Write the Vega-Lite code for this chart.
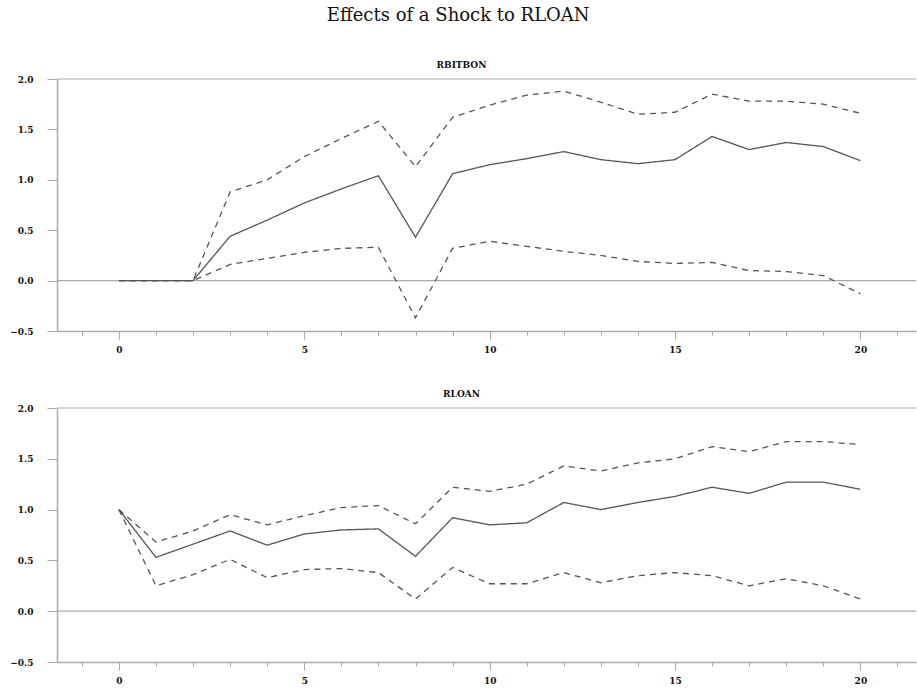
{
  "$schema": "https://vega.github.io/schema/vega-lite/v6.json",
  "background": "white",
  "padding": {"left": 9, "top": 7, "right": 0, "bottom": 0},
  "title": {"text": "Effects of a Shock to RLOAN", "font": "DejaVu Serif", "fontSize": 18, "fontWeight": "normal", "color": "#111", "anchor": "middle", "offset": 36, "dx": -5},
  "spacing": 36,
  "config": {
    "view": {"stroke": null},
    "axis": {"labelFont": "DejaVu Serif", "labelFontWeight": "bold", "labelFontSize": 9, "labelColor": "#111", "domainColor": "#aaa", "tickColor": "#aaa", "grid": false, "title": null},
    "title": {"font": "DejaVu Serif", "fontSize": 9, "fontWeight": "bold", "color": "#111"}
  },
  "datasets": {
    "p1": [
      {"step": 0, "series": "irf", "value": 0}, {"step": 1, "series": "irf", "value": 0}, {"step": 2, "series": "irf", "value": 0},
      {"step": 3, "series": "irf", "value": 0.44}, {"step": 4, "series": "irf", "value": 0.6}, {"step": 5, "series": "irf", "value": 0.77},
      {"step": 6, "series": "irf", "value": 0.91}, {"step": 7, "series": "irf", "value": 1.04}, {"step": 8, "series": "irf", "value": 0.43},
      {"step": 9, "series": "irf", "value": 1.06}, {"step": 10, "series": "irf", "value": 1.15}, {"step": 11, "series": "irf", "value": 1.21},
      {"step": 12, "series": "irf", "value": 1.28}, {"step": 13, "series": "irf", "value": 1.2}, {"step": 14, "series": "irf", "value": 1.16},
      {"step": 15, "series": "irf", "value": 1.2}, {"step": 16, "series": "irf", "value": 1.43}, {"step": 17, "series": "irf", "value": 1.3},
      {"step": 18, "series": "irf", "value": 1.37}, {"step": 19, "series": "irf", "value": 1.33}, {"step": 20, "series": "irf", "value": 1.19},
      {"step": 0, "series": "upper", "value": 0}, {"step": 1, "series": "upper", "value": 0}, {"step": 2, "series": "upper", "value": 0},
      {"step": 3, "series": "upper", "value": 0.88}, {"step": 4, "series": "upper", "value": 1.0}, {"step": 5, "series": "upper", "value": 1.23},
      {"step": 6, "series": "upper", "value": 1.41}, {"step": 7, "series": "upper", "value": 1.58}, {"step": 8, "series": "upper", "value": 1.13},
      {"step": 9, "series": "upper", "value": 1.62}, {"step": 10, "series": "upper", "value": 1.74}, {"step": 11, "series": "upper", "value": 1.84},
      {"step": 12, "series": "upper", "value": 1.88}, {"step": 13, "series": "upper", "value": 1.77}, {"step": 14, "series": "upper", "value": 1.65},
      {"step": 15, "series": "upper", "value": 1.67}, {"step": 16, "series": "upper", "value": 1.85}, {"step": 17, "series": "upper", "value": 1.78},
      {"step": 18, "series": "upper", "value": 1.78}, {"step": 19, "series": "upper", "value": 1.75}, {"step": 20, "series": "upper", "value": 1.66},
      {"step": 0, "series": "lower", "value": 0}, {"step": 1, "series": "lower", "value": 0}, {"step": 2, "series": "lower", "value": 0},
      {"step": 3, "series": "lower", "value": 0.16}, {"step": 4, "series": "lower", "value": 0.22}, {"step": 5, "series": "lower", "value": 0.28},
      {"step": 6, "series": "lower", "value": 0.32}, {"step": 7, "series": "lower", "value": 0.33}, {"step": 8, "series": "lower", "value": -0.37},
      {"step": 9, "series": "lower", "value": 0.32}, {"step": 10, "series": "lower", "value": 0.39}, {"step": 11, "series": "lower", "value": 0.34},
      {"step": 12, "series": "lower", "value": 0.29}, {"step": 13, "series": "lower", "value": 0.25}, {"step": 14, "series": "lower", "value": 0.19},
      {"step": 15, "series": "lower", "value": 0.17}, {"step": 16, "series": "lower", "value": 0.18}, {"step": 17, "series": "lower", "value": 0.1},
      {"step": 18, "series": "lower", "value": 0.09}, {"step": 19, "series": "lower", "value": 0.05}, {"step": 20, "series": "lower", "value": -0.13}
    ],
    "p2": [
      {"step": 0, "series": "irf", "value": 1.0}, {"step": 1, "series": "irf", "value": 0.53}, {"step": 2, "series": "irf", "value": 0.66},
      {"step": 3, "series": "irf", "value": 0.79}, {"step": 4, "series": "irf", "value": 0.65}, {"step": 5, "series": "irf", "value": 0.76},
      {"step": 6, "series": "irf", "value": 0.8}, {"step": 7, "series": "irf", "value": 0.81}, {"step": 8, "series": "irf", "value": 0.54},
      {"step": 9, "series": "irf", "value": 0.92}, {"step": 10, "series": "irf", "value": 0.85}, {"step": 11, "series": "irf", "value": 0.87},
      {"step": 12, "series": "irf", "value": 1.07}, {"step": 13, "series": "irf", "value": 1.0}, {"step": 14, "series": "irf", "value": 1.07},
      {"step": 15, "series": "irf", "value": 1.13}, {"step": 16, "series": "irf", "value": 1.22}, {"step": 17, "series": "irf", "value": 1.16},
      {"step": 18, "series": "irf", "value": 1.27}, {"step": 19, "series": "irf", "value": 1.27}, {"step": 20, "series": "irf", "value": 1.2},
      {"step": 0, "series": "upper", "value": 1.0}, {"step": 1, "series": "upper", "value": 0.68}, {"step": 2, "series": "upper", "value": 0.79},
      {"step": 3, "series": "upper", "value": 0.95}, {"step": 4, "series": "upper", "value": 0.85}, {"step": 5, "series": "upper", "value": 0.94},
      {"step": 6, "series": "upper", "value": 1.02}, {"step": 7, "series": "upper", "value": 1.04}, {"step": 8, "series": "upper", "value": 0.86},
      {"step": 9, "series": "upper", "value": 1.22}, {"step": 10, "series": "upper", "value": 1.18}, {"step": 11, "series": "upper", "value": 1.25},
      {"step": 12, "series": "upper", "value": 1.43}, {"step": 13, "series": "upper", "value": 1.38}, {"step": 14, "series": "upper", "value": 1.46},
      {"step": 15, "series": "upper", "value": 1.5}, {"step": 16, "series": "upper", "value": 1.62}, {"step": 17, "series": "upper", "value": 1.57},
      {"step": 18, "series": "upper", "value": 1.67}, {"step": 19, "series": "upper", "value": 1.67}, {"step": 20, "series": "upper", "value": 1.64},
      {"step": 0, "series": "lower", "value": 1.0}, {"step": 1, "series": "lower", "value": 0.25}, {"step": 2, "series": "lower", "value": 0.36},
      {"step": 3, "series": "lower", "value": 0.51}, {"step": 4, "series": "lower", "value": 0.33}, {"step": 5, "series": "lower", "value": 0.41},
      {"step": 6, "series": "lower", "value": 0.42}, {"step": 7, "series": "lower", "value": 0.38}, {"step": 8, "series": "lower", "value": 0.12},
      {"step": 9, "series": "lower", "value": 0.43}, {"step": 10, "series": "lower", "value": 0.27}, {"step": 11, "series": "lower", "value": 0.27},
      {"step": 12, "series": "lower", "value": 0.38}, {"step": 13, "series": "lower", "value": 0.28}, {"step": 14, "series": "lower", "value": 0.35},
      {"step": 15, "series": "lower", "value": 0.38}, {"step": 16, "series": "lower", "value": 0.35}, {"step": 17, "series": "lower", "value": 0.25},
      {"step": 18, "series": "lower", "value": 0.32}, {"step": 19, "series": "lower", "value": 0.25}, {"step": 20, "series": "lower", "value": 0.12}
    ],
    "ref": [{"y": 0}, {"y": 2}]
  },
  "vconcat": [
    {
      "width": 859, "height": 252,
      "title": {"text": "RBITBON", "offset": 5, "dx": -25},
      "resolve": {"axis": {"x": "independent"}},
      "layer": [
        {
          "data": {"name": "ref"},
          "mark": {"type": "rule", "color": "#aaa", "strokeWidth": 1.2},
          "encoding": {
            "y": {"field": "y", "type": "quantitative", "scale": {"domain": [-0.5, 2.0], "nice": false},
                  "axis": {"values": [-0.5, 0, 0.5, 1, 1.5, 2], "format": ".1f", "tickSize": 10, "labelPadding": 14, "domainWidth": 1.5}}
          }
        },
        {
          "data": {"name": "p1"},
          "mark": {"type": "line", "color": "#555", "strokeWidth": 1.3},
          "encoding": {
            "x": {"field": "step", "type": "quantitative", "scale": {"domain": [-1.67, 21.5], "nice": false, "zero": false},
                  "axis": {"orient": "bottom", "values": [0, 5, 10, 15, 20], "tickSize": 8, "labelPadding": 6, "domainWidth": 1.5}},
            "y": {"field": "value", "type": "quantitative"},
            "detail": {"field": "series"},
            "strokeDash": {"field": "series", "type": "nominal", "scale": {"domain": ["irf", "lower", "upper"], "range": [[1, 0], [6, 5], [6, 5]]}, "legend": null}
          }
        },
        {
          "data": {"name": "p1"},
          "mark": {"type": "point", "opacity": 0},
          "encoding": {
            "x": {"field": "step", "type": "quantitative", "axis": {"orient": "bottom", "values": [-1, 0, 1, 2, 3, 4, 5, 6, 7, 8, 9, 10, 11, 12, 13, 14, 15, 16, 17, 18, 19, 20, 21], "tickSize": 4, "labels": false, "domain": false}},
            "y": {"field": "value", "type": "quantitative"}
          }
        }
      ]
    },
    {
      "width": 859, "height": 254,
      "title": {"text": "RLOAN", "offset": 5, "dx": -25},
      "resolve": {"axis": {"x": "independent"}},
      "layer": [
        {
          "data": {"name": "ref"},
          "mark": {"type": "rule", "color": "#aaa", "strokeWidth": 1.2},
          "encoding": {
            "y": {"field": "y", "type": "quantitative", "scale": {"domain": [-0.5, 2.0], "nice": false},
                  "axis": {"values": [-0.5, 0, 0.5, 1, 1.5, 2], "format": ".1f", "tickSize": 10, "labelPadding": 14, "domainWidth": 1.5}}
          }
        },
        {
          "data": {"name": "p2"},
          "mark": {"type": "line", "color": "#555", "strokeWidth": 1.3},
          "encoding": {
            "x": {"field": "step", "type": "quantitative", "scale": {"domain": [-1.67, 21.5], "nice": false, "zero": false},
                  "axis": {"orient": "bottom", "values": [0, 5, 10, 15, 20], "tickSize": 8, "labelPadding": 6, "domainWidth": 1.5}},
            "y": {"field": "value", "type": "quantitative"},
            "detail": {"field": "series"},
            "strokeDash": {"field": "series", "type": "nominal", "scale": {"domain": ["irf", "lower", "upper"], "range": [[1, 0], [6, 5], [6, 5]]}, "legend": null}
          }
        },
        {
          "data": {"name": "p2"},
          "mark": {"type": "point", "opacity": 0},
          "encoding": {
            "x": {"field": "step", "type": "quantitative", "axis": {"orient": "bottom", "values": [-1, 0, 1, 2, 3, 4, 5, 6, 7, 8, 9, 10, 11, 12, 13, 14, 15, 16, 17, 18, 19, 20, 21], "tickSize": 4, "labels": false, "domain": false}},
            "y": {"field": "value", "type": "quantitative"}
          }
        }
      ]
    }
  ]
}
